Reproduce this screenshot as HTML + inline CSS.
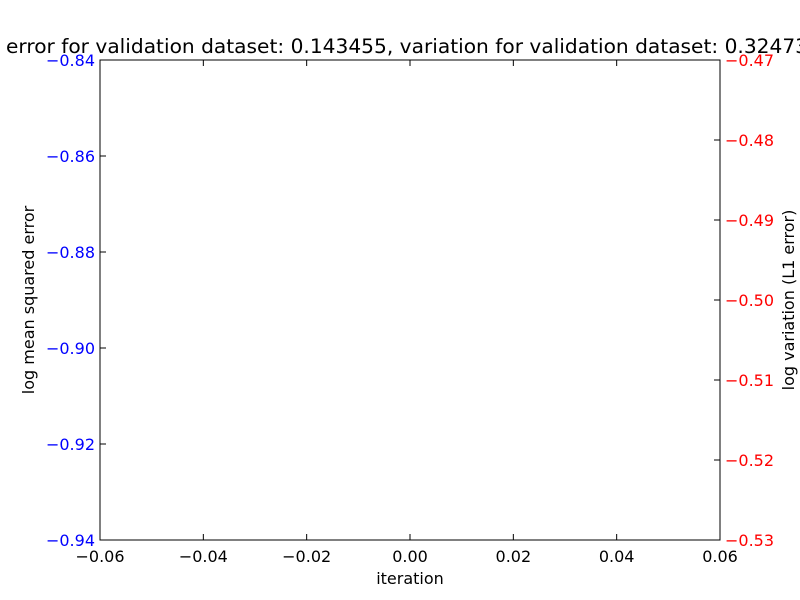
<!DOCTYPE html>
<html>
<head>
<meta charset="utf-8">
<style>
html,body{margin:0;padding:0;background:#fff;}
svg{display:block;}
text{font-family:"DejaVu Sans","Liberation Sans",sans-serif;}
</style>
</head>
<body>
<svg id="chart" width="800" height="600" viewBox="0 0 800 600">
  <rect x="0" y="0" width="800" height="600" fill="#fff"/>
  <text x="6" y="53" font-size="19.5" textLength="802" lengthAdjust="spacingAndGlyphs" fill="#000">error for validation dataset: 0.143455, variation for validation dataset: 0.32473</text>
  <rect x="100" y="60" width="620" height="480" fill="none" stroke="#000" stroke-width="1"/>
  <g id="xticks"></g>
  <g id="lticks"></g>
  <g id="rticks"></g>
  <text x="410" y="584" font-size="16" text-anchor="middle">iteration</text>
  <text x="0" y="0" font-size="16" text-anchor="middle" transform="translate(34,300) rotate(-90)">log mean squared error</text>
  <text x="0" y="0" font-size="16" text-anchor="middle" transform="translate(794,300) rotate(-90)">log variation (L1 error)</text>
</svg>
<script>
const xTicks = [-0.06, -0.04, -0.02, 0.00, 0.02, 0.04, 0.06];
const xTickLabels = ["\u22120.06","\u22120.04","\u22120.02","0.00","0.02","0.04","0.06"];
const leftTicks = [-0.84, -0.86, -0.88, -0.90, -0.92, -0.94];
const leftTickLabels = ["\u22120.84","\u22120.86","\u22120.88","\u22120.90","\u22120.92","\u22120.94"];
const rightTicks = [-0.47, -0.48, -0.49, -0.50, -0.51, -0.52, -0.53];
const rightTickLabels = ["\u22120.47","\u22120.48","\u22120.49","\u22120.50","\u22120.51","\u22120.52","\u22120.53"];

const L=100,R=720,T=60,B=540,NS="http://www.w3.org/2000/svg";
const xS=v=>L+(v-(-0.06))/(0.12)*(R-L);
const lS=v=>T+(-0.84-v)/(0.10)*(B-T);
const rS=v=>T+(-0.47-v)/(0.06)*(B-T);
function mk(tag,attrs,parent){const e=document.createElementNS(NS,tag);for(const k in attrs)e.setAttribute(k,attrs[k]);parent.appendChild(e);return e;}

const gx=document.getElementById('xticks');
xTicks.forEach((v,i)=>{
  const x=xS(v);
  const t1=mk('line',{x1:x,x2:x,y1:B,y2:B-6,stroke:'#000'},gx);
  
  
  const t2=mk('line',{x1:x,x2:x,y1:T,y2:T+6,stroke:'#000'},gx);
  
  
  const tx=mk('text',{x:x,y:B+22,'font-size':16,'text-anchor':'middle',fill:'#000'},gx);
  tx.textContent=xTickLabels[i];
  
  
});
const gl=document.getElementById('lticks');
leftTicks.forEach((v,i)=>{
  const y=lS(v);
  const t=mk('line',{x1:L,x2:L+6,y1:y,y2:y,stroke:'#000'},gl);
  
  
  const tx=mk('text',{x:L-5,y:y+6,'font-size':16,'text-anchor':'end',fill:'#0000ff'},gl);
  tx.textContent=leftTickLabels[i];
  
  
});
const gr=document.getElementById('rticks');
rightTicks.forEach((v,i)=>{
  const y=rS(v);
  const t=mk('line',{x1:R,x2:R-6,y1:y,y2:y,stroke:'#000'},gr);
  
  
  const tx=mk('text',{x:R+5,y:y+6,'font-size':16,'text-anchor':'start',fill:'#ff0000'},gr);
  tx.textContent=rightTickLabels[i];
  
  
});
</script>
</body>
</html>
